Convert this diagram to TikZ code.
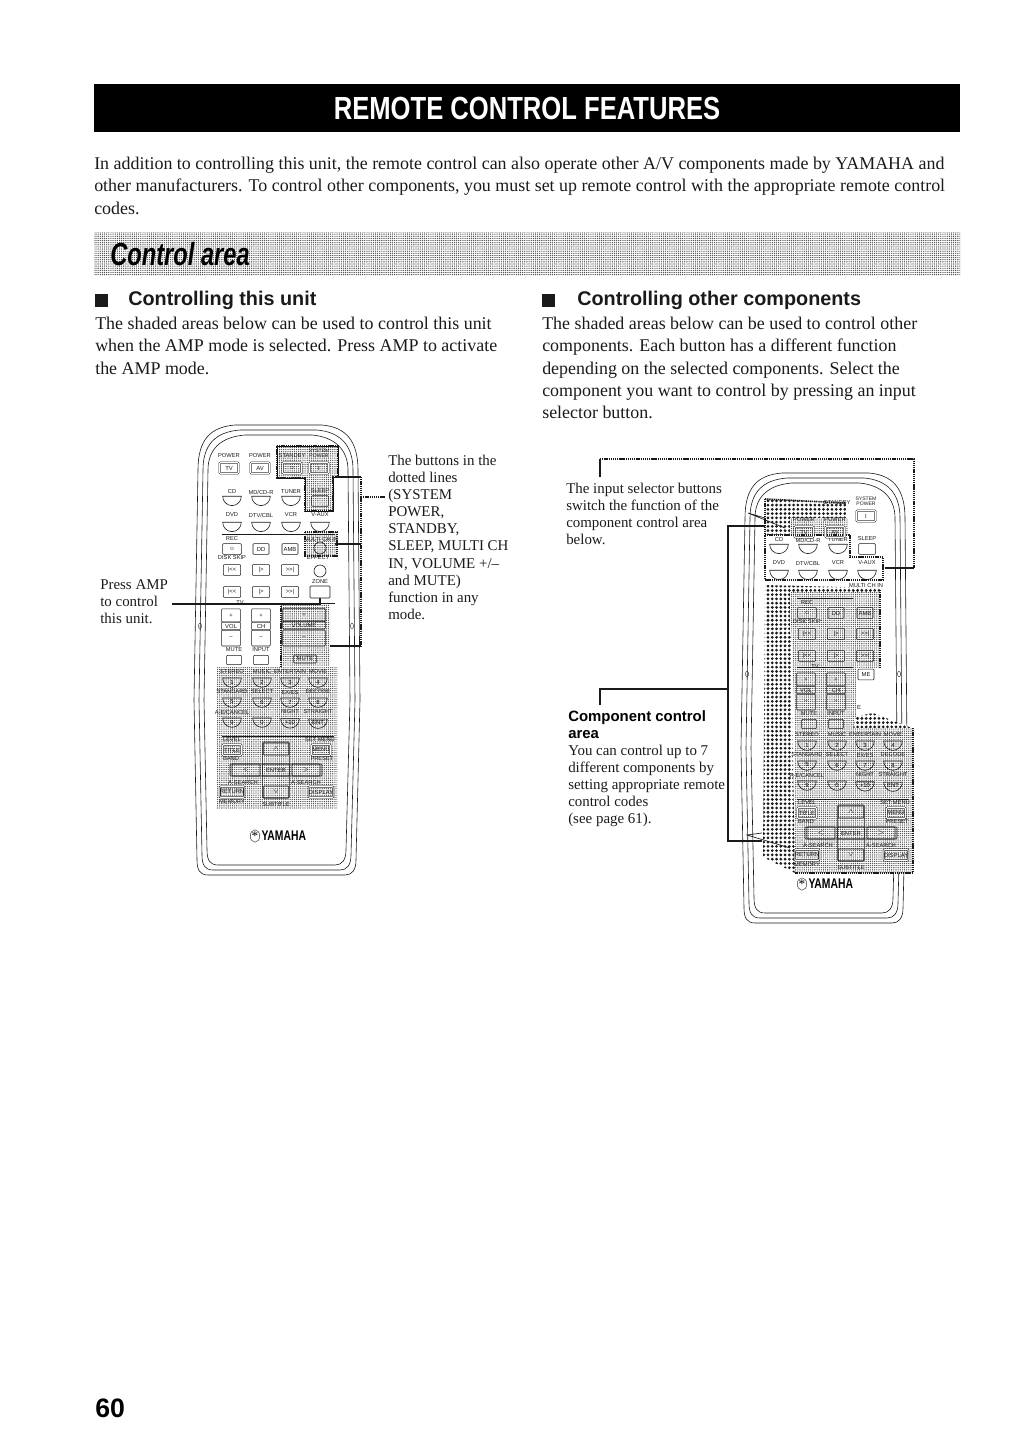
\documentclass[tikz,border=0pt]{standalone}
\usepackage{fontspec}
\setmainfont{Liberation Serif}
\setsansfont{Liberation Sans}
\newfontfamily\narrowfont[FakeStretch=0.80]{Liberation Sans}
\newfontfamily\slimfont[FakeStretch=0.74]{Liberation Sans}
\usetikzlibrary{positioning, shapes.geometric, patterns.meta}
\definecolor{RCink}{HTML}{1A1A1A}
\definecolor{RCdots}{HTML}{444444}
\tikzset{
  rcbody/.style={draw=RCink, line width=0.45pt},
  rcbox/.style={rectangle, rounded corners=0.6pt, draw=RCink, line width=0.4pt, inner sep=0pt,
    minimum width=14pt, minimum height=8pt, font=\fontsize{4.4}{5}\sffamily, text=RCink},
  rcdbl/.style={rcbox, double, double distance=0.7pt, minimum width=14pt},
  rcu/.style={semicircle, shape border rotate=180, draw=RCink, line width=0.45pt, inner sep=0pt,
    minimum width=12.5pt, minimum height=7pt, font=\fontsize{4.4}{5}\sffamily},
  rcring/.style={circle, draw=RCink, line width=0.45pt, minimum size=9pt, inner sep=0pt},
  rcpin/.style={ellipse, draw=RCink, line width=0.3pt, minimum width=2.4pt, minimum height=4pt, inner sep=0pt},
  rclbl/.style={inner sep=0pt, font=\fontsize{4.3}{5}\sffamily, text=RCink},
  rcrule/.style={draw=RCink, line width=0.5pt},
  rcshade/.style={preaction={fill=white}, pattern={Dots[distance=1.6pt,radius=0.5pt]}, pattern color=RCdots},
  rcdark/.style={preaction={fill=white}, pattern={Dots[distance=3.2pt,radius=1.15pt]}, pattern color=RCink},
  rcedge/.style={draw=RCink, line width=1.2pt, dash pattern=on 1pt off 0.6pt},
  rclead/.style={draw=RCink, line width=0.8pt},
  rcdots/.style={draw=RCink, line width=1.2pt, dash pattern=on 1pt off 0.6pt},
  rctxt/.style={anchor=north west, align=left, inner sep=0pt, text=RCink,
    font=\fontsize{13.45}{16.7}\selectfont},
  rcsmall/.style={anchor=north west, align=left, inner sep=0pt, text=RCink,
    font=\fontsize{11.2}{12.8}\selectfont},
  rchead/.style={anchor=west, inner sep=0pt, text=RCink, font=\fontsize{14.85}{16}\sffamily\bfseries},
  rcsq/.style={rectangle, fill=RCink, minimum size=9.75pt, inner sep=0pt},
}
% remote case, three contours
\newcommand{\rccase}{
  \foreach \i in {0,5,10}{
    \draw[rcbody] ({197+\i},{860-\i}) -- ({194+\i},700) -- ({198+\i},470)
      .. controls ({198+\i},{440+\i}) and ({210+\i},{427+\i}) .. ({235+\i},{425+\i})
      -- ({322-\i},{425+\i}) .. controls ({345-\i},{427+\i}) and ({358-\i},{440+\i}) .. ({358-\i},470)
      -- ({360-\i},700) -- ({356-\i},{860-\i})
      .. controls ({356-\i},{870-\i}) and ({352-\i},{875-\i}) .. ({345-\i},{875-\i})
      -- ({208+\i},{875-\i}) .. controls ({200+\i},{875-\i}) and ({197+\i},{870-\i}) .. ({197+\i},{860-\i}) -- cycle;
  }
  \node[rcpin] (pinl) at (200,626) {};
  \node[rcpin] (pinr) at (352,626) {};
  \node[rcpin, minimum width=6pt, minimum height=6pt] (fork) at (255,836) {*};
  \node[right=1pt of fork, inner sep=0pt, font=\fontsize{10.5}{12}\slimfont\bfseries] (yamaha) {YAMAHA};
}
% power keys for TV and AV
\newcommand{\rcpower}{
  \foreach \x/\t in {229/TV,260/AV}{
    \node[rclbl] (pw\x) at (\x,456) {POWER};
    \node[rcdbl] (key\t) at (\x,468) {\t};
  }
}
\newcommand{\rcsystem}{
  \node[rclbl, align=center, font=\fontsize{3.8}{4}\sffamily] (sysl) at (319,453) {SYSTEM\\POWER};
  \node[rcdbl] (sysk) at (319,468) {I};
  \node[rclbl] (slpl) at (320,491) {SLEEP};
  \node[rcbox, minimum width=12.5pt] (slpk) at (320,501) {};
}
\newcommand{\rcinputs}{
  \foreach \x/\t in {232/CD,261/{MD/CD-R},291/TUNER}{
    \node[rclbl] (a\x) at (\x,492) {\t};
    \node[rcu] (ua\x) at (\x,500) {};
  }
  \foreach \x/\t in {232/DVD,261/{DTV/CBL},291/VCR,320/V-AUX}{
    \node[rclbl] (b\x) at (\x,515) {\t};
    \node[rcu] (ub\x) at (\x,526) {};
  }
}
% sound field keys, player keys; #1 is where the rules stop
\newcommand{\rcplayer}[1]{
  \coordinate (ra) at (222,534); \coordinate (rb) at (#1,534);
  \coordinate (rc) at (222,603); \coordinate (rd) at (#1,603);
  \draw[rcrule] (ra) -- (rb); \draw[rcrule] (rc) -- (rd);
  \node[rclbl] (rec) at (232,539) {REC};
  \node[rcbox] (k1) at (232,549) {\(\circ\)};
  \node[rcbox, minimum width=12pt] (k2) at (261,549) {DD};
  \node[rcbox, minimum width=12pt] (k3) at (290,549) {AMB};
  \node[rclbl] (dsk) at (232,558) {DISK SKIP};
  \foreach \y in {570,592}{
    \foreach \x/\t in {232/|{<}{<},261/|{>},290/{>}{>}|}{
      \node[rcbox, minimum width=13pt] (k\x-\y) at (\x,\y) {\t};
    }
  }
  \node[rclbl] (tvl) at (240,603) {TV};
  \foreach \x/\t in {231/VOL,261/CH}{
    \node[rcbox, minimum height=10pt] (up\t) at (\x,615.5) {+};
    \node[rcbox, minimum height=6pt] (md\t) at (\x,626) {\t};
    \node[rcbox, minimum height=12pt] (dn\t) at (\x,638) {--};
  }
  \foreach \x/\t in {234/MUTE,261/INPUT}{
    \node[rclbl] (l\t) at (\x,650) {\t};
    \node[rcbox, minimum width=11pt, minimum height=7pt] (k\t) at (\x,660) {};
  }
}
% 1--8 and the cursor keys
\newcommand{\rcmodes}{
  \foreach \y/\ly/\ta/\tb/\tc/\td/\na/\nb/\nc/\nd in {
    682/672/STEREO/MUSIC/ENTERTAIN/MOVIE/1/2/3/4,
    702/692/STANDARD/SELECT/{EX/ES}/DECODE/5/6/7/8,
    722/712/{A-E/CANCEL}/{}/NIGHT/STRAIGHT/9/0/+10/ENT}{
    \node[rclbl] (ta\y) at (232,\ly) {\ta};
    \node[rclbl] (tb\y) at (262,\ly) {\tb};
    \node[rclbl] (tc\y) at (290,\ly) {\tc};
    \node[rclbl] (td\y) at (318,\ly) {\td};
    \node[rcu] (na\y) at (232,\y) {\na};
    \node[rcu] (nb\y) at (262,\y) {\nb};
    \node[rcu] (nc\y) at (290,\y) {\nc};
    \node[rcu] (nd\y) at (318,\y) {\nd};
  }
  \coordinate (re) at (222,736); \coordinate (rf) at (334,736);
  \draw[rcrule] (re) -- (rf);
  \node[rclbl] (lev) at (232,740) {LEVEL};
  \node[rclbl] (set) at (320,740) {SET MENU};
  \node[rcdbl] (title) at (232,750) {TITLE};
  \node[rcdbl] (menu) at (321,750) {MENU};
  \node[rclbl] (band) at (231,759) {BAND};
  \node[rclbl] (pres) at (322,759) {PRESET};
  \node[rcbox, minimum width=20pt, minimum height=42pt] (ud) at (276,770) {};
  \node[rcbox, minimum width=69pt, minimum height=9pt, fill=none] (lr) at (276,770) {};
  \node[rcbox, minimum width=20pt, minimum height=9pt] (enter) at (276,770) {ENTER};
  \node[rcbox, minimum width=19pt, minimum height=9pt] (kup) at (276,749) {\(\wedge\)};
  \node[rcbox, minimum width=19pt, minimum height=9pt] (kdn) at (276,792) {\(\vee\)};
  \node[rcbox, minimum width=21pt, minimum height=9pt] (klf) at (246,770) {\(<\)};
  \node[rcbox, minimum width=21pt, minimum height=9pt] (krt) at (306,770) {\(>\)};
  \node[rclbl] (asl) at (243,783) {A-SEARCH};
  \node[rclbl] (asr) at (306,783) {A-SEARCH};
  \node[rcdbl] (ret) at (232,792) {RETURN};
  \node[rcdbl] (disp) at (321,792) {DISPLAY};
  \node[rclbl] (mem) at (232,802) {MEMORY};
  \node[rclbl] (sub) at (276,805) {SUBTITLE};
}
\begin{document}
\begin{tikzpicture}[x=0.75pt, y=-0.75pt]
  \useasboundingbox (0,0) rectangle (1022,1448);
  % page head
  \node[fill=black, minimum width=649.5pt, minimum height=36pt, inner sep=0pt, text=white,
    font=\fontsize{24}{26}\narrowfont\bfseries] (title) at (527,108) {REMOTE CONTROL FEATURES};
  \node[rctxt] (intro) at (94,157) {In addition to controlling this unit, the remote control can also operate other A/V components made by YAMAHA and\\
    other manufacturers. To control other components, you must set up remote control with the appropriate remote control\\
    codes.};
  \node[rectangle, minimum width=649.5pt, minimum height=32pt, inner sep=0pt, rcshade] (band) at (527,254) {};
  \node[anchor=west, inner sep=0pt, font=\fontsize{24}{25}\slimfont\bfseries\itshape] (area) at (110,254) {Control area};
  % columns
  \node[rcsq] (sqa) at (101.5,300) {};
  \node[rchead] (heada) at (128,300) {Controlling this unit};
  \node[rctxt] (bodya) at (95,317) {The shaded areas below can be used to control this unit\\
    when the AMP mode is selected. Press AMP to activate\\
    the AMP mode.};
  \node[rcsq] (sqb) at (548.5,300) {};
  \node[rchead] (headb) at (577,300) {Controlling other components};
  \node[rctxt] (bodyb) at (542,317) {The shaded areas below can be used to control other\\
    components. Each button has a different function\\
    depending on the selected components. Select the\\
    component you want to control by pressing an input\\
    selector button.};
  % left remote
  \begin{scope}[name prefix=L]
    \rccase
    \filldraw[rcshade] (277,446) -- (338,446) -- (338,477) -- (333,477) -- (333,511) -- (305,511) -- (305,478) -- (277,478) -- cycle;
    \draw[rcdots] (277,446) -- (338,446) -- (338,477) -- (333,477) -- (333,511) -- (305,511) -- (305,478) -- (277,478) -- cycle;
    \filldraw[rcshade, draw=none] (305,532) rectangle (337,556);
    \draw[rcdots] (305,532) rectangle (337,556);
    \filldraw[rcshade, draw=none] (281,604) rectangle (330,666);
    \draw[rcdots] (281,604) -- (281,666);
    \filldraw[rcshade, draw=none] (217,667) rectangle (337,808);
    \rcpower
    \rcsystem
    \rcinputs
    \node[rclbl] (stby) at (292,456) {STANDBY};
    \node[rcdbl] (stbk) at (292,468) {\(\circ\)};
    \node[rclbl] (mch) at (321,540) {MULTI CH IN};
    \node[rcring] (mchk) at (320,548) {};
    \node[rclbl] (eff) at (318,558) {EFFECT};
    \node[rcring] (effk) at (320,571) {};
    \node[rclbl] (zone) at (320,582) {ZONE};
    \node[rcbox, minimum width=15pt, minimum height=9pt] (amp) at (320,592) {};
    \rcplayer{335}
    \node[rcbox, minimum width=32pt, minimum height=10pt] (volup) at (304,615) {+};
    \node[rcbox, minimum width=32pt, minimum height=6pt] (volmd) at (304,625) {VOLUME};
    \node[rcbox, minimum width=32pt, minimum height=12pt] (voldn) at (304,638) {--};
    \node[rcbox, minimum width=17pt, minimum height=6pt] (mute) at (305,659) {MUTE};
    \rcmodes
  \end{scope}
  % leaders of the left remote
  \coordinate (ba) at (335,477); \coordinate (bb) at (361,477);
  \coordinate (bc) at (335,544); \coordinate (bd) at (361,544);
  \coordinate (be) at (330,646); \coordinate (bf) at (361,646);
  \coordinate (bg) at (361,497); \coordinate (bh) at (385,497);
  \draw[rclead] (ba) -- (bb); \draw[rclead] (bc) -- (bd); \draw[rclead] (be) -- (bf);
  \draw[rcdots] (bb) -- (bf);
  \draw[rcdots, line width=1.8pt] (bg) -- (bh);
  \coordinate (pa) at (172,604);
  \draw[rclead] (pa) -| (Lamp.south);
  \node[rcsmall] (dotted) at (388,455) {The buttons in the\\dotted lines\\(SYSTEM\\POWER,\\STANDBY,\\SLEEP, MULTI CH\\IN, VOLUME +/--\\and MUTE)\\function in any\\mode.};
  \node[rcsmall] (press) at (100,579) {Press AMP\\to control\\this unit.};
  % right remote, the fixed part
  \begin{scope}[shift={(547,48)}, name prefix=R]
    \rccase
    \rcsystem
  \end{scope}
  \filldraw[rcdark, draw=none] (765,499) -- (846,503) -- (846,535) -- (765,535) -- cycle;
  \filldraw[rcshade, draw=none] (790,518) rectangle (848,535);
  \filldraw[fill=white, draw=none] (765,535) -- (850,535) -- (850,557) -- (883,557) -- (883,580) -- (765,580) -- cycle;
  \begin{scope}[shift={(547,48)}, name prefix=R]
    \rcinputs
    \node[rclbl] (mch) at (319,538) {MULTI CH IN};
  \end{scope}
  \draw[rcdots] (765,535) -- (850,535) -- (850,557) -- (883,557) -- (883,580) -- (765,580) -- cycle;
  \draw[rcdots] (765,499) -- (846,503);
  \draw[rcdots] (765,499) -- (765,535);
  % right remote, the lifted part
  \filldraw[rcdark, draw=none] (765,585) -- (880,588) -- (880,592) -- (790,592) -- (795,873) -- (763,857) -- cycle;
  \filldraw[rcdark, draw=none] (853,717) -- (873,713) -- (912,728) -- (853,728) -- cycle;
  \filldraw[rcshade, draw=none] (790,592) -- (880,592) -- (880,668) -- (856,668) -- (856,716) -- (853,728) -- (913,728) -- (913,873) -- (795,873) -- (795,728) -- cycle;
  \draw[rcdots] (880,590) -- (880,668);
  \draw[rcedge] (913,728) -- (913,873) -- (795,873);
  \begin{scope}[shift={(547,48)}, name prefix=R]
    \node[rcbox, minimum width=12pt, minimum height=8pt, fill=white] (volme) at (319,626.5) {ME};
    \node[rcbox, draw=none] (muteme) at (312,659) {E};
  \end{scope}
  \begin{scope}[shift={(575,64)}, name prefix=T]
    \rcpower
    \node[rclbl] (stby) at (262,439) {STANDBY};
    \rcplayer{278}
  \end{scope}
  \begin{scope}[shift={(575,63)}, name prefix=B]
    \rcmodes
  \end{scope}
  % leaders of the right remote
  \coordinate (ca) at (600,477); \coordinate (cb) at (600,459);
  \coordinate (cc) at (914,459); \coordinate (cd) at (914,568); \coordinate (ce) at (885,568);
  \draw[rclead] (ca) -- (cb); \draw[rcdots] (cb) -- (cc) -- (cd); \draw[rclead] (cd) -- (ce);
  \coordinate (da) at (600,705); \coordinate (db) at (600,689); \coordinate (dc) at (728,689);
  \coordinate (dd) at (728,526); \coordinate (de) at (765,526);
  \coordinate (df) at (728,841); \coordinate (dg) at (762,841);
  \draw[rclead] (da) -- (db) -- (dc);
  \draw[rclead] (de) -- (dd) -- (df) -- (dg);
  \coordinate (fa) at (748,513); \coordinate (fb) at (765,518); \coordinate (fc) at (785,528);
  \coordinate (fd) at (747,835); \coordinate (fe) at (762,833); \coordinate (ff) at (790,848);
  \draw[rcrule] (fb) -- (fa) -- (fc);
  \draw[rcrule] (fe) -- (fd) -- (ff);
  \node[rcsmall] (inputtxt) at (566,483) {The input selector buttons\\switch the function of the\\component control area\\below.};
  \node[anchor=north west, align=left, inner sep=0pt, font=\fontsize{11.2}{13.4}\sffamily\bfseries] (comphead) at (568,710) {Component control\\area};
  \node[rcsmall] (comptxt) at (568,745) {You can control up to 7\\different components by\\setting appropriate remote\\control codes\\(see page 61).};
  \node[anchor=west, inner sep=0pt, font=\fontsize{20}{22}\sffamily\bfseries] (page) at (95,1408) {60};
\end{tikzpicture}
\end{document}
